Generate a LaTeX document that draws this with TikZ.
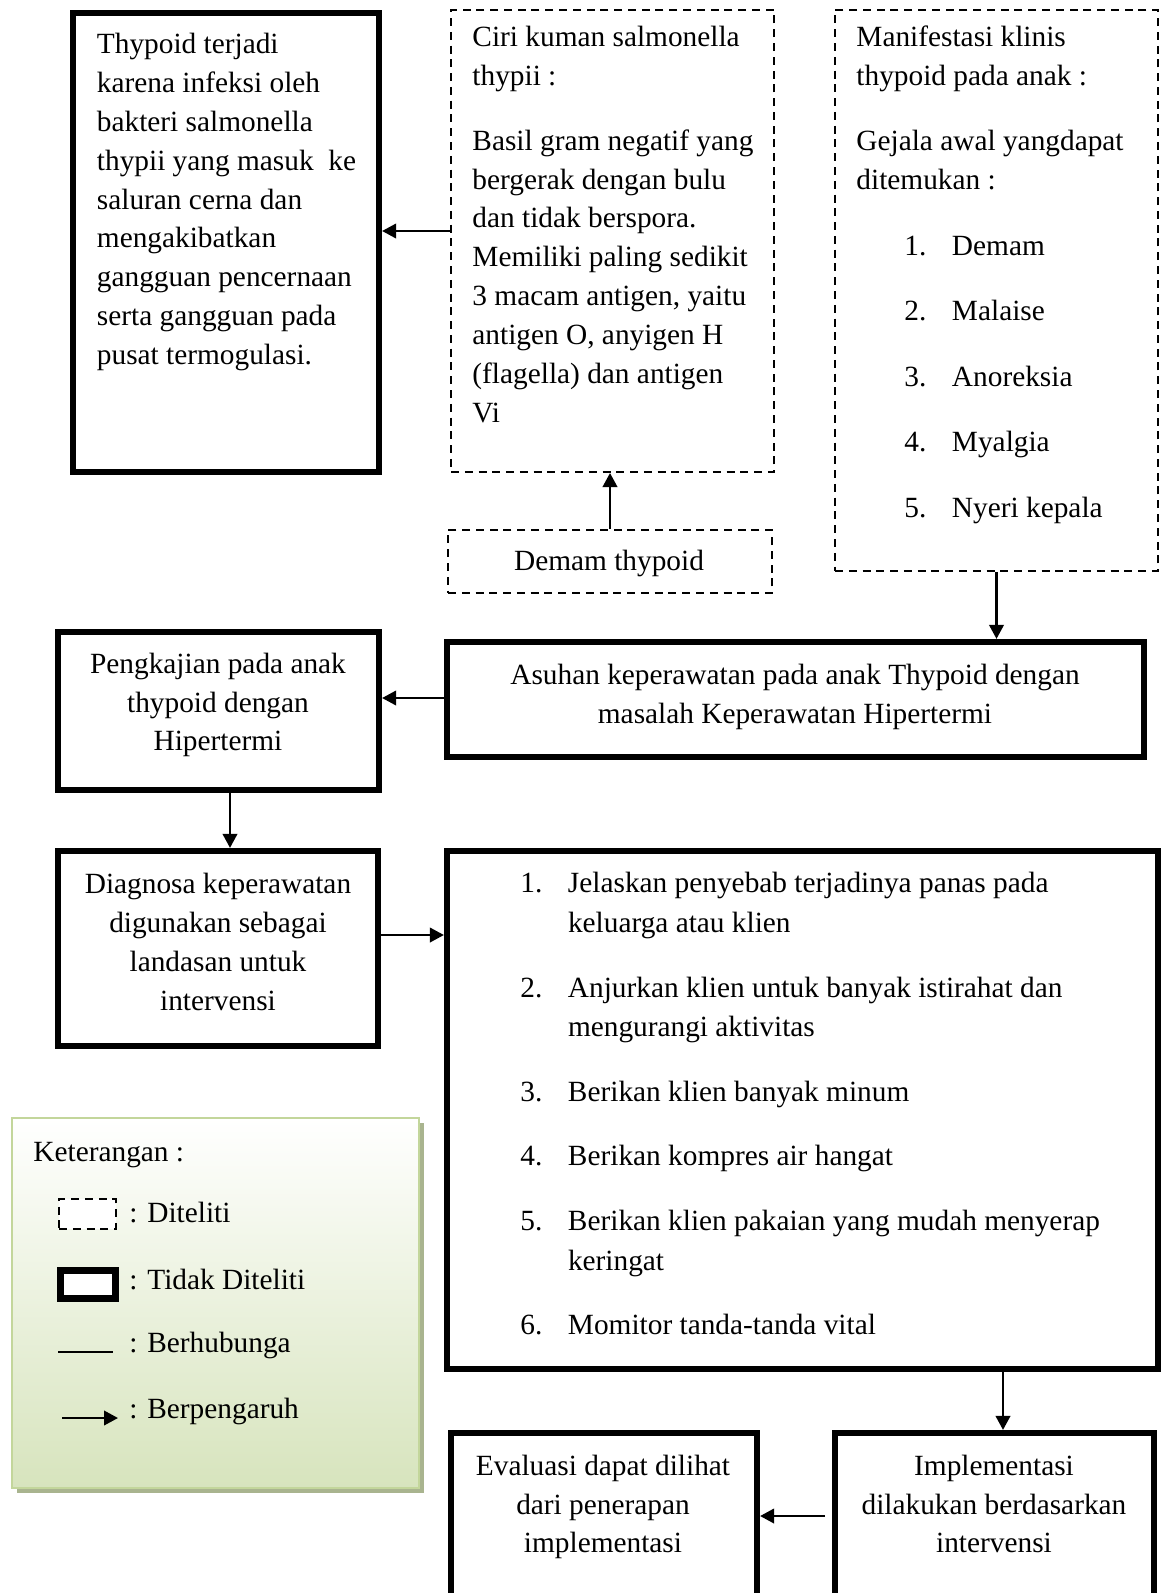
\documentclass[tikz,border=0pt]{standalone}
\usepackage{fontspec}
\setmainfont{Liberation Serif}
\usetikzlibrary{
arrows.meta,
fit,
shadows,
}
\definecolor{hijaumuda}{HTML}{D7E4BD}
\definecolor{hijaugaris}{HTML}{C3D69B}
\definecolor{hijaubayang}{HTML}{A9B48F}
\tikzset{
every node/.style={inner sep=0pt},
diteliti/.style={draw, line width=0.9pt, dash pattern=on 3.6pt off 2.6pt},
tidakditeliti/.style={draw, line width=2.8pt},
teks/.style={font=\fontsize{13.2}{17.5}\selectfont},
kiri/.style={teks, align=left, anchor=north west},
tengah/.style={teks, align=center},
keterangan/.style={draw=hijaugaris, line width=1.3pt, top color=white, bottom color=hijaumuda,
  drop shadow={shadow xshift=2.2pt, shadow yshift=-2.2pt, fill=hijaubayang, opacity=1}},
>={Triangle[length=6.3pt,width=6.5pt]},
panah/.style={->, line width=1.1pt},
}
\newcommand{\nomor}[1]{\makebox[21.4pt][l]{#1}}

\begin{document}
\begin{tikzpicture}[x=0.45pt, y=-0.45pt]
    \useasboundingbox (0,0) rectangle (1163,1593);
    \clip (0,0) rectangle (1163,1593);

    % kotak
    \node [tidakditeliti, fit={(73,13) (379,472)}] (thypoid) {};
    \node [diteliti, fit={(451,10) (774,472)}] (ciri) {};
    \node [diteliti, fit={(835,10) (1158,571)}] (manifestasi) {};
    \node [diteliti, fit={(448,530) (772,593)}] (demam) {};
    \node [tidakditeliti, fit={(447,642) (1144,757)}] (asuhan) {};
    \node [tidakditeliti, fit={(58,632) (379,790)}] (pengkajian) {};
    \node [tidakditeliti, fit={(58,851) (378,1046)}] (diagnosa) {};
    \node [tidakditeliti, fit={(447,851) (1158,1369)}] (intervensi) {};
    \node [tidakditeliti, fit={(835,1433) (1154,1620)}] (implementasi) {};
    \node [tidakditeliti, fit={(451,1433) (757,1620)}] (evaluasi) {};

    % isi
    \node [kiri] (thypoid-t) at (96.5,32.7) {Thypoid terjadi\\karena infeksi oleh\\bakteri salmonella\\thypii yang masuk\ \ ke\\saluran cerna dan\\mengakibatkan\\gangguan pencernaan\\serta gangguan pada\\pusat termogulasi.};
    \node [kiri] (ciri-t) at (472,25.6) {Ciri kuman salmonella\\thypii :\\[11.7pt]Basil gram negatif yang\\bergerak dengan bulu\\dan tidak berspora.\\Memiliki paling sedikit\\3 macam antigen, yaitu\\antigen O, anyigen H\\(flagella) dan antigen\\Vi};
    \node [kiri] (manifestasi-t) at (856,25.6) {Manifestasi klinis\\thypoid pada anak :\\[11.8pt]Gejala awal yangdapat\\ditemukan :\\[12pt]
        \hspace*{21.6pt}\nomor{1.}Demam\\[12pt]
        \hspace*{21.6pt}\nomor{2.}Malaise\\[12pt]
        \hspace*{21.6pt}\nomor{3.}Anoreksia\\[12pt]
        \hspace*{21.6pt}\nomor{4.}Myalgia\\[12pt]
        \hspace*{21.6pt}\nomor{5.}Nyeri kepala};
    \node [tengah] (demam-t) at (609,563) {Demam thypoid};
    \node [tengah] (asuhan-t) at (795,697) {Asuhan keperawatan pada anak Thypoid dengan\\masalah Keperawatan Hipertermi};
    \node [tengah] (pengkajian-t) at (218,705) {Pengkajian pada anak\\thypoid dengan\\Hipertermi};
    \node [tengah] (diagnosa-t) at (218,942) {Diagnosa keperawatan\\digunakan sebagai\\landasan untuk\\intervensi};
    \node [kiri, font=\fontsize{13.2}{17.8}\selectfont] (intervensi-t) at (520,872) {\nomor{1.}Jelaskan penyebab terjadinya panas pada\\\hspace*{21.4pt}keluarga atau klien\\[11.3pt]
        \nomor{2.}Anjurkan klien untuk banyak istirahat dan\\\hspace*{21.4pt}mengurangi aktivitas\\[11.3pt]
        \nomor{3.}Berikan klien banyak minum\\[11.3pt]
        \nomor{4.}Berikan kompres air hangat\\[11.3pt]
        \nomor{5.}Berikan klien pakaian yang mudah menyerap\\\hspace*{21.4pt}keringat\\[11.3pt]
        \nomor{6.}Momitor tanda-tanda vital};
    \node [tengah] (implementasi-t) at (994,1504) {Implementasi\\dilakukan berdasarkan\\intervensi};
    \node [tengah] (evaluasi-t) at (603,1507) {Evaluasi dapat dilihat\\dari penerapan\\implementasi};

    % panah
    \draw [panah] (ciri.west |- 0,231) -- (thypoid.east |- 0,231);
    \draw [panah] (demam.north) -- (demam.north |- ciri.south);
    \draw [panah] (manifestasi.south) -- (manifestasi.south |- asuhan.north);
    \draw [panah] (asuhan.west |- 0,698) -- (pengkajian.east |- 0,698);
    \draw [panah] (pengkajian.south -| 230,0) -- (diagnosa.north -| 230,0);
    \draw [panah] (diagnosa.east |- 0,935) -- (intervensi.west |- 0,935);
    \draw [panah] (intervensi.south -| 1003,0) -- (implementasi.north -| 1003,0);
    \draw [panah] ([xshift=-3pt]implementasi.west |- 0,1516) -- (evaluasi.east |- 0,1516);

    % keterangan
    \node [keterangan, fit={(12,1118) (419,1488)}] (legenda) {};
    \node [teks, anchor=west] (legenda-judul) at (33,1155) {Keterangan :};
    \node [diteliti, fill=white, fit={(59,1199) (116,1229)}] (contoh-putus) {};
    \node [teks, anchor=west] (contoh-putus-t) at (129,1213) {: Diteliti};
    \node [tidakditeliti, fill=white, line width=3.1pt, fit={(60.5,1270.5) (115.5,1298.5)}] (contoh-tebal) {};
    \node [teks, anchor=west] (contoh-tebal-t) at (129,1280) {: Tidak Diteliti};
    \coordinate (garis-a) at (58,1352);
    \coordinate (garis-b) at (113,1352);
    \draw [line width=0.9pt] (garis-a) -- (garis-b);
    \node [teks, anchor=west] (garis-t) at (129,1345) {: Berhubunga};
    \coordinate (panah-a) at (62,1418);
    \coordinate (panah-b) at (118,1418);
    \draw [panah] (panah-a) -- (panah-b);
    \node [teks, anchor=west] (panah-t) at (129,1411) {: Berpengaruh};
\end{tikzpicture}
\end{document}
